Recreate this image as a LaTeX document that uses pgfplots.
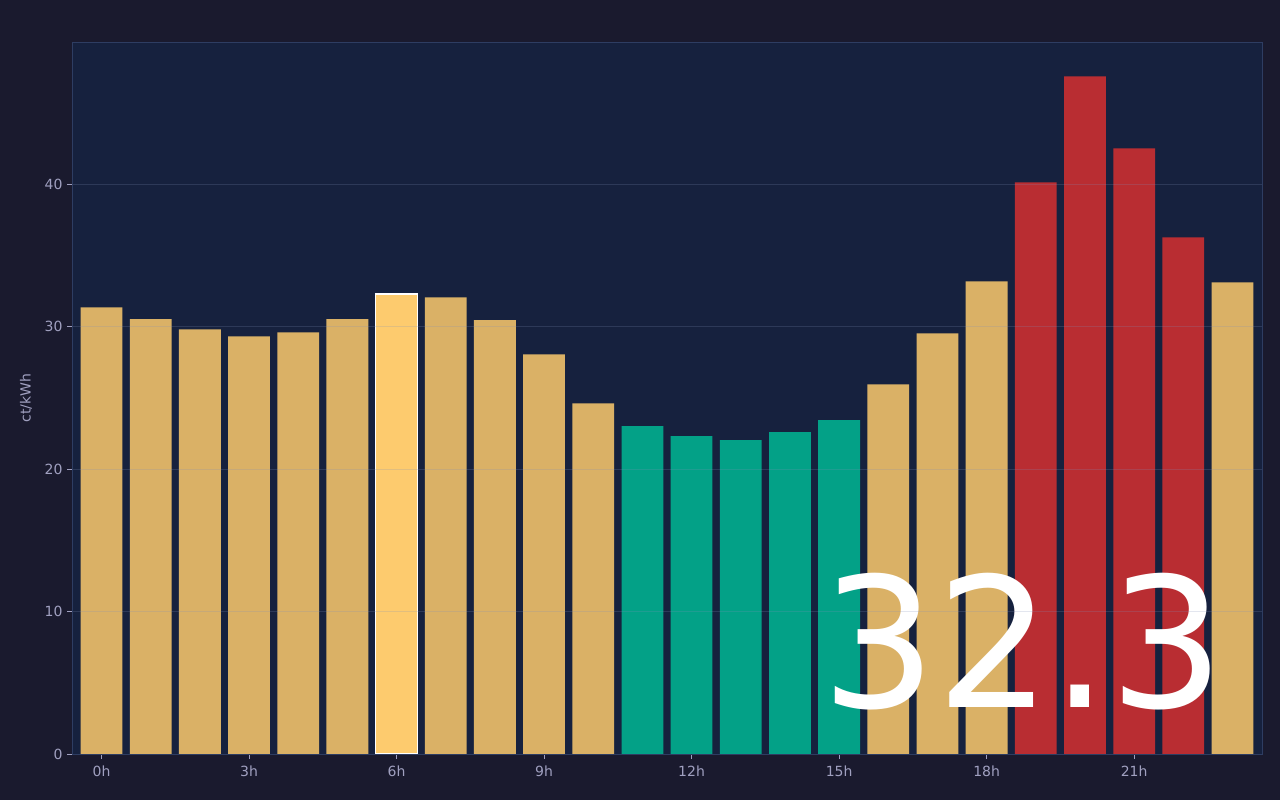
\documentclass[border=0pt]{standalone}
\usepackage{fontspec}
\setmainfont{DejaVu Sans}
\usepackage{pgfplots}
\pgfplotsset{compat=1.18}
\definecolor{outerbg}{HTML}{1A1A2E}
\definecolor{plotbg}{HTML}{16213E}
\definecolor{gold}{HTML}{FDCB6E}
\definecolor{teal}{HTML}{00B894}
\definecolor{redb}{HTML}{D63031}
\definecolor{ticktext}{HTML}{A0A0C0}
\definecolor{gridc}{HTML}{8090B8}
\definecolor{framec}{HTML}{2E3D62}
\begin{document}
\begin{tikzpicture}
\fill[outerbg] (-72bp,-46bp) rectangle (1208bp,754bp);
\begin{axis}[
  scale only axis,
  width=1190bp, height=712bp,
  xmin=-0.6, xmax=23.6, ymin=0, ymax=50,
  axis on top,
  axis background/.style={fill=plotbg},
  axis line style={framec, line width=0.8pt},
  xtick={0,3,6,9,12,15,18,21},
  xticklabels={0h,3h,6h,9h,12h,15h,18h,21h},
  ytick={0,10,20,30,40},
  ymajorgrids, grid style={gridc, draw opacity=0.22, line width=0.6pt},
  tick align=outside,
  major tick length=5bp,
  tick style={ticktext, line width=0.8pt, draw opacity=1},
  xtick pos=bottom, ytick pos=left,
  ticklabel style={font=\fontsize{14bp}{16bp}\selectfont, text=ticktext},
  xticklabel style={yshift=-3bp},
  yticklabel style={xshift=-1bp},
  /pgf/number format/assume math mode=true,
  ylabel={ct/kWh},
  every axis y label/.style={at={(axis description cs:-0.0387,0.5)}, anchor=center, rotate=90, font=\fontsize{14bp}{16bp}\selectfont, text=ticktext},
  ybar, bar width=0.85, bar shift=0pt,
  clip=false,
]
\addplot[fill=gold, fill opacity=0.85, draw=none] coordinates {
 (0,31.37) (1,30.53) (2,29.82) (3,29.33) (4,29.61) (5,30.53)
 (7,32.07) (8,30.46) (9,28.07) (10,24.63)
 (16,25.96) (17,29.54) (18,33.19) (23,33.12)};
\addplot[fill=teal, fill opacity=0.85, draw=none] coordinates {
 (11,23.02) (12,22.32) (13,22.04) (14,22.60) (15,23.44)};
\addplot[fill=redb, fill opacity=0.85, draw=none] coordinates {
 (19,40.14) (20,47.58) (21,42.53) (22,36.28)};
\addplot[fill=gold, draw=white, line width=1.6pt] coordinates {(6,32.3)};
\node[anchor=base, text=white, inner sep=0pt, font=\fontsize{181bp}{181bp}\selectfont] at (axis cs:18.74,3.25) {32.3};
\end{axis}
\end{tikzpicture}
\end{document}
